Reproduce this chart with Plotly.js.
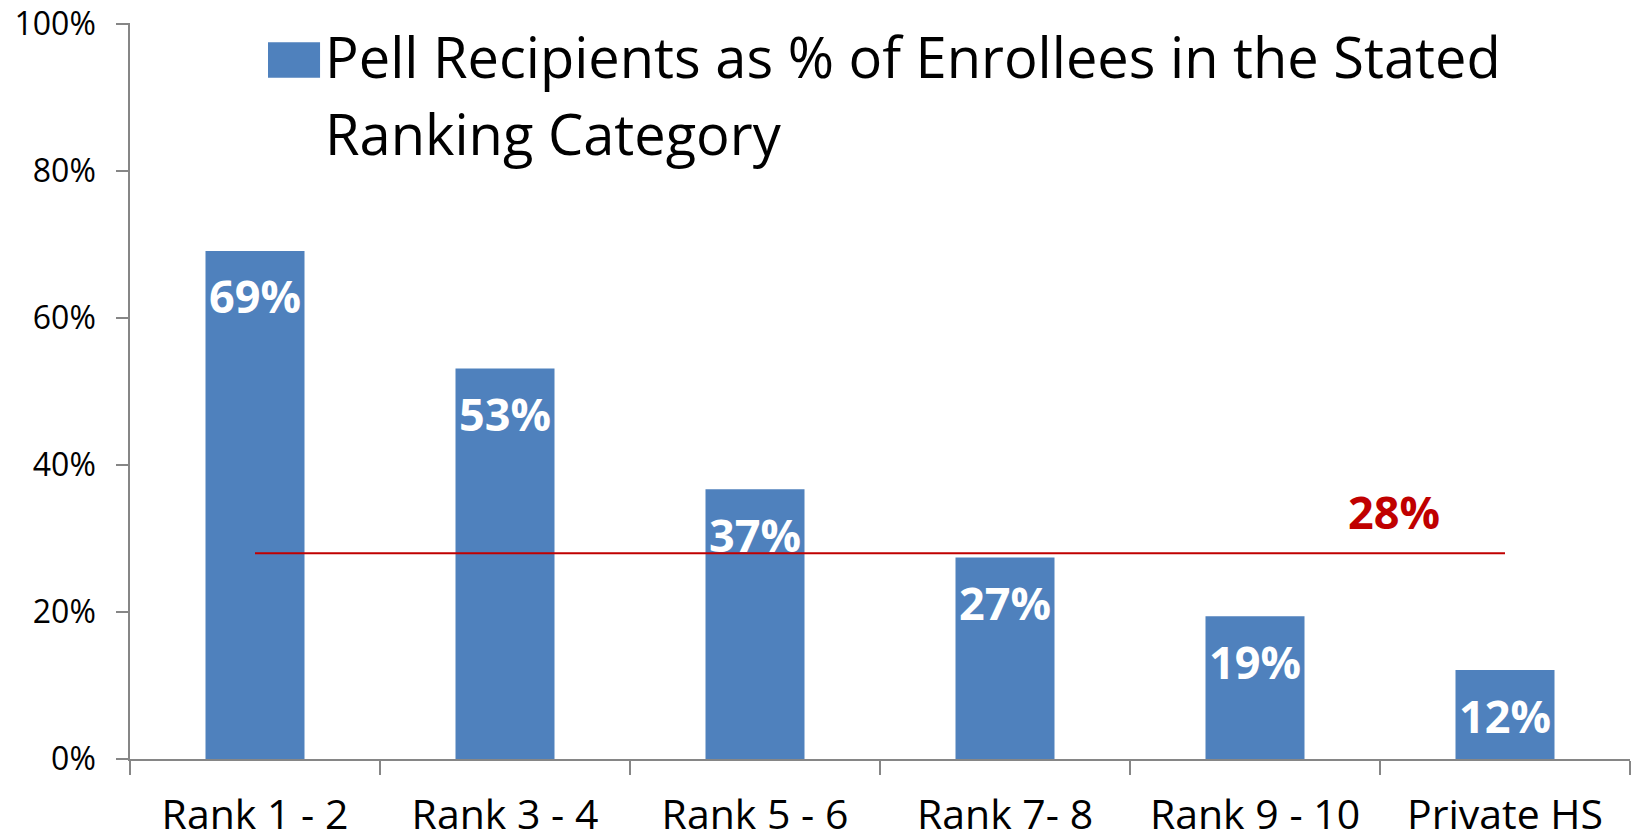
<!DOCTYPE html>
<html>
<head>
<meta charset="utf-8">
<script src="https://cdn.plot.ly/plotly-3.0.1.min.js"></script>
<style>
html, body { margin: 0; padding: 0; background: #ffffff; }
#chart { width: 1636px; height: 840px; }
</style>
</head>
<body>
<div id="chart"></div>
<script>
// ---- data ----
const categories = ["Rank 1 - 2", "Rank 3 - 4", "Rank 5 - 6", "Rank 7- 8", "Rank 9 - 10", "Private HS"];
const pellShare = [69.1, 53.1, 36.7, 27.4, 19.4, 12.1];
const pellLabels = ["69%", "53%", "37%", "27%", "19%", "12%"];
const overallAverage = 28;
const overallLabel = "28%";
const seriesName = "Pell Recipients as % of Enrollees in the Stated Ranking Category";
const legendLines = ["Pell Recipients as % of Enrollees in the Stated", "Ranking Category"];
const yTickValues = [0, 20, 40, 60, 80, 100];
const yTickLabels = ["0%", "20%", "40%", "60%", "80%", "100%"];

// ---- style ----
const FONT = "Open Sans, Noto Sans, sans-serif";
const BAR_COLOR = "#4F81BD";
const AXIS_COLOR = "#868686";
const RED = "#C00000";

const barTrace = {
  type: "bar",
  x: categories,
  y: pellShare,
  name: seriesName,
  marker: { color: BAR_COLOR, line: { width: 0 } },
  hoverinfo: "x+y",
  showlegend: false
};

const avgTrace = {
  type: "scatter",
  mode: "lines",
  x: [categories[0], categories[categories.length - 1]],
  y: [overallAverage, overallAverage],
  line: { color: RED, width: 2 },
  hoverinfo: "y",
  showlegend: false
};

const annotations = [];
categories.forEach((c, i) => {
  annotations.push({
    x: c, y: pellShare[i], xref: "x", yref: "y",
    text: pellLabels[i], showarrow: false,
    xanchor: "center", yanchor: "middle", yshift: -45,
    font: { family: FONT, size: 45, color: "#ffffff", weight: "bold" }
  });
});
// average label
annotations.push({
  x: 4.556, y: overallAverage, xref: "x", yref: "y",
  text: "<b>" + overallLabel + "</b>", showarrow: false,
  xanchor: "center", yanchor: "middle", yshift: 42,
  font: { family: FONT, size: 45, color: RED }
});
// legend text (two lines)
annotations.push({
  x: 0.1287, y: 1.0, xref: "paper", yref: "paper",
  text: legendLines[0], showarrow: false,
  xanchor: "left", yanchor: "middle", yshift: -33,
  font: { family: FONT, size: 56, color: "#000000" }
});
annotations.push({
  x: 0.1287, y: 1.0, xref: "paper", yref: "paper",
  text: legendLines[1], showarrow: false,
  xanchor: "left", yanchor: "middle", yshift: -110,
  font: { family: FONT, size: 56, color: "#000000" }
});

const layout = {
  width: 1636,
  height: 840,
  margin: { l: 130, r: 6, t: 23, b: 81 },
  paper_bgcolor: "#ffffff",
  plot_bgcolor: "#ffffff",
  font: { family: FONT, color: "#000000" },
  showlegend: false,
  bargap: 0.604,
  xaxis: {
    type: "category",
    tickson: "boundaries",
    ticks: "outside",
    ticklen: 14,
    tickwidth: 1.5,
    tickcolor: AXIS_COLOR,
    showline: true,
    linecolor: AXIS_COLOR,
    linewidth: 1.5,
    showgrid: false,
    zeroline: false,
    ticklabelstandoff: 19,
    tickfont: { family: FONT, size: 41, color: "#000000" },
    automargin: false,
    fixedrange: true
  },
  yaxis: {
    range: [0, 100.1],
    tickvals: yTickValues,
    ticktext: yTickLabels,
    ticks: "outside",
    ticklen: 12,
    tickwidth: 1.5,
    tickcolor: AXIS_COLOR,
    showline: true,
    linecolor: AXIS_COLOR,
    linewidth: 1.5,
    showgrid: false,
    zeroline: false,
    ticklabelstandoff: 14,
    ticklabeloverflow: "allow",
    tickfont: { family: FONT, size: 32, color: "#000000" },
    automargin: false,
    fixedrange: true
  },
  shapes: [{
    type: "rect", xref: "paper", yref: "paper",
    x0: 0.092, x1: 0.1267, y0: 0.9255, y1: 0.974,
    fillcolor: BAR_COLOR, line: { width: 0 }
  }],
  annotations: annotations
};

Plotly.newPlot("chart", [barTrace, avgTrace], layout, { displayModeBar: false, staticPlot: false });
</script>
</body>
</html>
